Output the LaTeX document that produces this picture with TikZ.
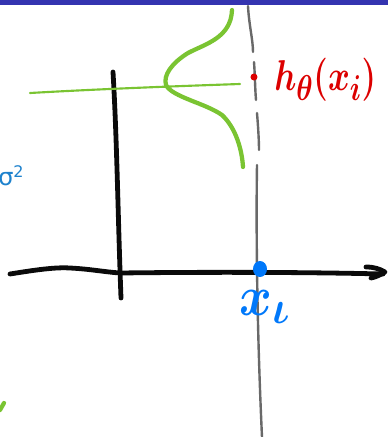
\documentclass[tikz,border=0pt]{standalone}
\usepackage{amsmath}
\usepackage{fontspec}
\newfontfamily\dvsans{DejaVu Sans}
\definecolor{barblue}{RGB}{52,52,176}
\definecolor{penblack}{RGB}{10,10,10}
\definecolor{pengreen}{RGB}{122,196,50}
\definecolor{pengray}{RGB}{105,105,105}
\definecolor{penred}{RGB}{220,0,0}
\definecolor{penblue}{RGB}{0,120,250}
\definecolor{sigmablue}{RGB}{30,130,205}
\tikzset{
  stroke/.style={line cap=round,line join=round},
  axisline/.style={stroke,draw=penblack,line width=3.6pt},
  gaussline/.style={stroke,draw=pengreen,line width=3.2pt},
  meanline/.style={stroke,draw=pengreen,line width=1.6pt},
  guide/.style={stroke,draw=pengray,line width=1.8pt},
}
\begin{document}
\begin{tikzpicture}[x=0.75pt,y=-0.75pt]
\useasboundingbox (0,0) rectangle (388,437);
% top bar
\fill[barblue] (0,0) rectangle (388,5);
% gray vertical guide (partly broken at top)
\draw[guide] (248,6) .. controls (249,25) and (253,40) .. (253,52);
\draw[guide] (254,62) .. controls (255,75) and (255,88) .. (256,100);
\draw[guide] (257,113) .. controls (258,125) and (259,140) .. (259,150);
\draw[guide] (257,165) .. controls (256,230) and (257,330) .. (262,437);
% black vertical axis
\draw[axisline] (113,72) .. controls (117,140) and (118,220) .. (121,298);
% black horizontal axis with hook arrow
\draw[axisline] (10,274) .. controls (35,270) and (55,267) .. (70,268)
  .. controls (90,269) and (105,272) .. (120,273)
  .. controls (200,272) and (300,272) .. (383,274);
\draw[axisline] (366,267) .. controls (374,267) and (380,269) .. (385,272)
  .. controls (380,275) and (376,277) .. (371,278);
% green mean line
\draw[meanline] (30,93) .. controls (100,89) and (180,86) .. (240,84);
% green gaussian
\draw[gaussline] (232,10) .. controls (231,38) and (205,44) .. (188,53)
  .. controls (172,63) and (163,75) .. (166,85)
  .. controls (172,97) and (205,103) .. (222,115)
  .. controls (236,128) and (242,150) .. (243,167);
% green bit bottom-left
\draw[gaussline] (0,410) -- (4,403);
% red dot and label
\fill[penred] (254,77) circle (3.5);
\node[text=penred,anchor=west,inner sep=0pt] (hlabel) at (274,80) {\scalebox{1.0}[1.3]{\Huge$\boldsymbol{h_\theta(x_i)}$}};
% blue dot and label
\fill[penblue] (260,269) ellipse (7 and 8);
\node[text=penblue,anchor=north,inner sep=0pt] (xlabel) at (265,290) {\scalebox{1.5}[1.7]{\Huge$\boldsymbol{x_\iota}$}};
% sigma squared
\node[text=sigmablue,font=\dvsans\fontsize{18}{20}\selectfont,anchor=west,inner sep=0pt] (sigma) at (-2,176) {σ\raisebox{0.6ex}{\fontsize{12}{13}\selectfont 2}};
\end{tikzpicture}
\end{document}
